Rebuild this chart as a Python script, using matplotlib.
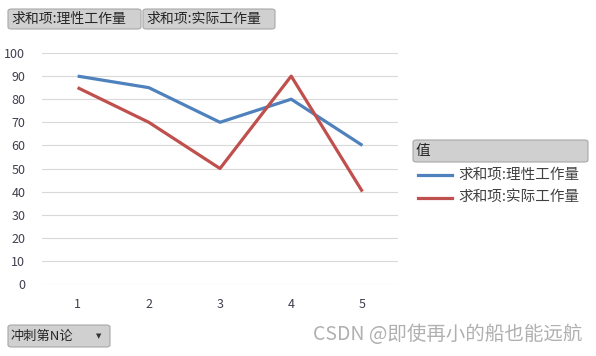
import matplotlib.pyplot as plt
from matplotlib.patches import FancyBboxPatch

plt.rcParams['font.family'] = ['Noto Sans CJK SC', 'DejaVu Sans']

rounds = [1, 2, 3, 4, 5]
theory = [90, 85, 70, 80, 60]
actual = [85, 70, 50, 90, 40]
series_names = ['求和项:理性工作量', '求和项:实际工作量']
colors = ['#4f81bd', '#c0504d']

W, H = 596, 356
fig = plt.figure(figsize=(W / 100, H / 100), dpi=100)
fig.patch.set_facecolor('white')

ax = fig.add_axes([42 / W, 1 - 284 / H, (398 - 42) / W, (284 - 53) / H])
for vals, c in zip([theory, actual], colors):
    ax.plot(rounds, vals, color=c, lw=2.3, solid_capstyle='butt', zorder=3)

ax.set_xlim(0.5, 5.5)
ax.set_ylim(0, 100)
ax.set_yticks(range(0, 101, 10))
ax.set_xticks(rounds)
ax.grid(axis='y', color='#d9d9d9', lw=0.8)
ax.set_axisbelow(True)
for s in ax.spines.values():
    s.set_visible(False)
ax.tick_params(length=0, labelsize=9, colors='#404050', pad=12)
ax.tick_params(axis='x', pad=10)


def button(x0, y0, x1, y1, label, size=10, arrow=False):
    # pixel coords, y from top
    p = FancyBboxPatch((x0 / W, 1 - y1 / H), (x1 - x0) / W, (y1 - y0) / H,
                       boxstyle='round,pad=0,rounding_size=0.006',
                       transform=fig.transFigure, facecolor='#d0d0d0',
                       edgecolor='#a8a8a8', lw=0.8)
    fig.add_artist(p)
    fig.text((x0 + 3) / W, 1 - (y0 + y1) / 2 / H, label, fontsize=size,
             color='#262626', va='center', ha='left')
    if arrow:
        fig.text((x1 - 11) / W, 1 - (y0 + y1) / 2 / H, '▼', fontsize=5,
                 color='#333333', va='center', ha='center', family='DejaVu Sans')


button(8, 9, 141, 29, series_names[0])
button(143, 9, 275, 29, series_names[1])
button(413, 140, 588, 162, '值', size=10.5)
button(8, 325, 110, 347, '冲刺第N论', size=9.5, arrow=True)

# legend entries
for i, (name, c) in enumerate(zip(series_names, colors)):
    yy = 1 - (175 + 23 * i) / H
    fig.add_artist(plt.Line2D([418 / W, 452 / W], [yy, yy], color=c, lw=2.3,
                              transform=fig.transFigure))
    fig.text(458 / W, yy, name, fontsize=10.5, color='#404040', va='center')

fig.text(582 / W, 1 - 334 / H, 'CSDN @即使再小的船也能远航', fontsize=14,
         color='#b0b0b0', ha='right', va='center')

fig.savefig('out.png', dpi=100)
